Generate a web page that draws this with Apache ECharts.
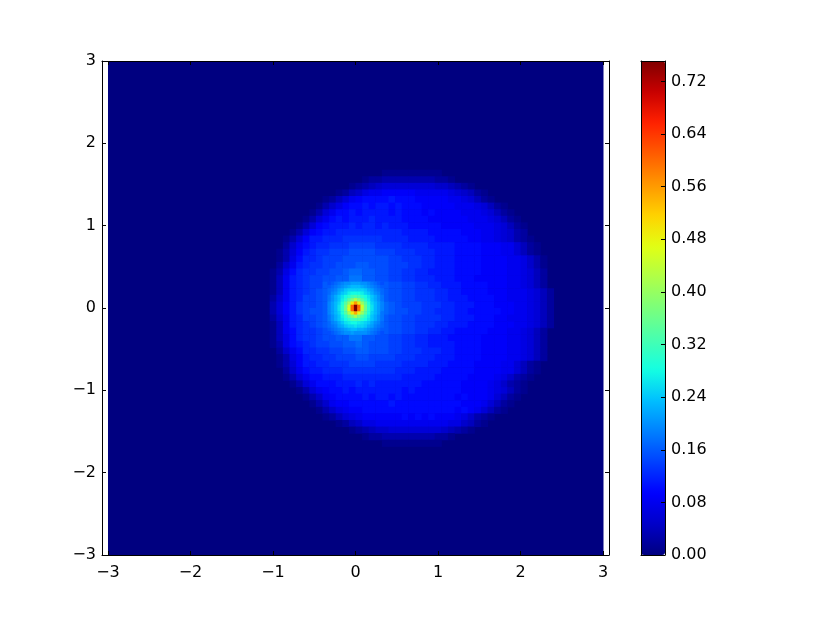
<!DOCTYPE html>
<html>
<head>
<meta charset="utf-8">
<style>
  html, body { margin: 0; background: #fff; }
  #main { width: 817px; height: 617px; }
</style>
<script src="https://cdn.jsdelivr.net/npm/echarts@6/dist/echarts.min.js"></script>
</head>
<body>
<div id="main"></div>
<script>
// tick labels
const xTicks = [-3, -2, -1, 0, 1, 2, 3];
const yTicks = [-3, -2, -1, 0, 1, 2, 3];
const barTicks = [0, 0.08, 0.16, 0.24, 0.32, 0.4, 0.48, 0.56, 0.64, 0.72];
const barMax = 0.751;

// disc, in 0.01 units, top row first. 0.08 wide cells
const coarseStart = [18,15,13,11,9,8,7,6,5,4,3,3,2,2,2,1,1,1,1,1,1,1,1,1,1,1,1,2,2,2,3,3,4,5,6,7,8,9,11,13,15,18];
const coarseRows = [
  [1,1,1,1,1,1,1,1,1],
  [1,2,2,3,3,3,3,3,3,3,3,2,2,1],
  [1,2,3,4,5,6,6,6,6,6,6,6,6,5,5,4,3,2,1],
  [1,2,4,5,7,8,8,9,9,9,9,9,8,8,8,8,8,7,6,5,4,2,1],
  [1,2,4,6,8,9,10,10,10,10,11,10,10,10,9,9,9,9,9,8,8,7,6,4,2,1],
  [1,3,5,7,9,10,10,11,10,11,11,10,11,10,10,10,9,9,9,9,9,8,8,8,7,6,4,2,1],
  [1,3,6,8,10,10,11,10,11,11,11,11,10,11,10,10,10,9,10,9,9,9,9,8,8,8,7,6,4,2,1],
  [1,3,6,8,10,11,10,11,11,11,12,11,11,11,11,10,10,10,10,9,9,9,9,9,9,8,8,8,7,6,4,2,1],
  [1,3,6,9,10,11,11,11,12,11,12,12,11,12,11,11,11,10,10,10,10,10,9,9,9,9,9,8,8,8,7,6,4,2,1],
  [1,3,6,9,10,11,11,12,12,12,12,12,12,12,12,12,12,11,11,11,11,10,10,10,10,10,9,9,9,8,8,7,6,5,3,2],
  [1,3,6,9,11,11,12,12,12,13,13,13,13,13,13,12,12,12,12,11,11,11,11,10,10,10,10,10,9,9,8,8,7,6,5,3,2,1],
  [2,5,8,10,11,12,12,13,13,13,14,14,14,14,13,13,13,13,12,12,12,12,11,11,11,11,10,10,10,10,9,9,9,8,8,6,4,2,1],
  [1,3,6,9,11,12,13,13,14,14,14,15,15,15,15,14,14,14,13,13,13,12,12,12,11,11,11,10,10,10,10,9,9,9,8,8,6,4,2,1],
  [1,3,7,10,12,12,13,14,14,14,15,15,15,15,15,15,15,14,14,13,13,13,12,12,11,11,11,10,10,10,10,9,9,9,9,8,8,7,5,3,1],
  [2,5,8,11,12,13,13,14,14,15,15,15,16,16,15,15,15,14,14,14,13,13,12,12,11,11,11,10,10,10,10,9,9,9,9,8,8,7,5,3,1],
  [1,3,7,10,12,13,13,14,14,15,15,16,17,17,16,16,15,15,14,14,13,13,12,12,11,11,11,11,10,10,10,10,9,9,9,9,8,8,7,6,4,2],
  [1,4,8,11,12,13,14,14,15,15,16,16,18,18,16,16,15,15,14,14,13,13,12,12,12,11,11,11,10,10,10,9,9,9,9,9,8,8,7,6,4,2],
  [1,4,8,11,12,13,14,14,16,16,16,17,18,18,18,17,17,16,15,15,14,14,13,13,12,12,11,11,11,10,10,10,10,9,9,9,8,8,7,6,4,2],
  [1,4,8,11,12,13,14,15,16,17,18,18,18,18,18,18,18,16,15,15,14,14,13,13,13,12,12,11,11,10,10,10,10,9,9,9,8,8,8,7,6,4,2],
  [2,5,8,11,12,14,14,15,16,17,18,18,18,18,18,18,18,16,15,15,14,14,13,13,13,12,12,11,11,11,10,10,10,10,9,9,8,8,8,7,6,4,2],
  [3,6,9,11,13,14,14,15,16,17,18,18,18,18,18,18,18,17,16,15,14,14,14,13,13,13,12,12,11,11,11,10,10,10,9,9,9,8,8,7,6,4,2],
  [3,6,9,11,13,14,15,15,16,17,18,18,18,18,18,18,18,17,16,15,15,14,14,13,13,12,12,12,11,11,10,10,10,10,10,9,9,8,8,7,6,4,2],
  [2,5,8,11,12,14,14,15,16,17,18,18,18,18,18,18,18,16,15,15,14,14,13,13,13,13,12,12,11,11,11,10,10,10,9,9,8,8,8,7,6,4,2],
  [1,4,8,11,12,13,14,15,16,17,18,18,18,18,18,18,18,16,15,15,14,14,13,13,13,12,12,11,11,11,10,10,10,10,9,9,9,8,8,7,6,4,2],
  [1,4,8,10,12,13,13,14,15,16,16,17,18,18,18,17,17,16,15,15,14,14,13,13,12,12,11,11,10,10,10,10,10,9,9,9,8,8,7,6,4,2],
  [1,4,7,10,12,13,13,14,15,15,16,16,18,18,16,16,15,15,14,14,13,13,12,12,11,11,11,10,10,10,10,10,9,9,9,9,8,8,7,6,4,2],
  [1,3,7,10,11,12,13,14,14,15,15,16,16,17,16,15,15,15,14,14,13,13,12,12,11,11,11,11,10,10,10,10,9,9,9,9,8,8,7,6,4,2],
  [2,5,8,10,12,12,13,13,14,14,15,15,16,16,15,15,15,14,14,13,13,13,12,12,12,11,11,10,10,10,10,9,9,9,9,8,8,7,6,4,2],
  [1,3,7,9,11,12,12,13,13,14,14,14,15,15,14,14,14,14,13,13,13,12,12,12,11,11,11,10,10,10,10,9,9,9,9,8,8,7,6,4,2],
  [1,3,6,9,11,11,12,12,13,13,13,14,14,14,14,13,13,13,13,12,12,12,12,11,11,11,10,10,10,10,9,9,9,9,8,8,6,4,2,1],
  [2,5,8,10,11,11,12,12,12,13,13,13,13,13,13,13,13,12,12,12,11,11,11,11,10,10,10,10,10,9,9,9,9,8,8,6,4,2,1],
  [1,3,6,8,10,10,11,11,11,12,12,12,12,12,12,12,12,12,11,11,11,11,11,10,10,10,10,10,9,9,9,9,8,7,5,3,2,1],
  [1,3,6,8,10,10,10,11,11,11,12,11,12,11,11,11,11,11,11,11,10,10,10,10,10,10,9,9,9,9,8,7,5,3,2,1],
  [1,3,6,8,9,10,10,11,10,11,11,11,11,11,11,11,10,11,10,10,10,10,10,10,10,9,9,9,9,8,7,6,4,2,1],
  [1,3,5,8,9,10,10,10,10,11,10,11,11,10,11,10,10,10,10,10,10,10,10,9,10,9,9,9,8,6,4,2,1],
  [1,3,5,8,9,9,10,10,10,10,10,10,11,10,10,10,10,10,10,10,10,10,10,9,9,9,8,6,4,2,1],
  [1,3,5,7,8,9,9,10,10,10,10,10,10,10,10,10,10,10,10,10,10,9,10,9,8,6,4,2,1],
  [1,2,4,6,7,8,9,9,9,9,9,9,10,9,10,9,10,9,9,9,8,7,5,3,2,1],
  [1,2,4,5,7,7,8,8,8,8,8,8,8,8,8,8,8,7,7,5,4,2,1],
  [1,2,3,4,5,5,6,6,6,6,6,6,6,6,5,4,3,2,1],
  [1,2,2,3,3,3,3,3,3,3,3,2,2,1],
  [1,1,1,1,1,1,1,1,1]
];

// bright spot at the origin, same units, 0.04 wide cells
const spotRows = [
  [15,16,17,18,19,20,20,21,21,21,20,20,19,18,17,16,15],
  [16,17,18,19,20,21,22,23,23,23,22,21,20,19,18,17,16],
  [17,18,19,21,22,24,25,25,25,25,25,24,22,21,19,18,17],
  [17,19,20,22,24,25,27,28,28,28,27,25,24,22,20,19,17],
  [18,20,22,24,26,28,30,32,33,32,30,28,26,24,22,20,18],
  [18,20,22,24,27,30,34,38,42,38,34,30,27,24,22,20,18],
  [19,21,23,25,29,34,40,49,56,49,40,34,29,25,23,21,19],
  [19,21,23,26,30,36,45,60,75,60,45,36,30,26,23,21,19],
  [19,21,23,26,30,36,46,60,75,59,44,36,30,26,23,21,19],
  [19,21,23,25,29,34,41,49,55,48,40,34,29,25,23,21,18],
  [18,20,22,24,27,30,34,37,41,37,33,30,27,24,22,20,18],
  [18,20,22,24,26,28,30,32,32,32,30,28,26,24,22,20,18],
  [17,19,20,22,24,26,27,28,28,27,26,25,24,22,20,19,17],
  [17,18,19,21,22,24,25,25,26,25,25,24,22,21,19,18,17],
  [16,17,18,19,20,21,22,23,23,22,22,21,20,19,18,17,16],
  [15,16,17,18,19,20,20,21,20,20,20,20,19,18,17,16,15]
];

const cells = [[-3, 3, -3, 3, 0]];
coarseRows.forEach((row, j) => {
  row.forEach((v, k) => {
    const x0 = -1.12 + 0.08 * (coarseStart[j] + k);
    const y1 = 1.68 - 0.08 * j;
    cells.push([x0, x0 + 0.08, y1 - 0.08, y1, v / 100]);
  });
});
spotRows.forEach((row, j) => {
  row.forEach((v, k) => {
    const x0 = -0.34 + 0.04 * k;
    const y1 = 0.32 - 0.04 * j;
    cells.push([x0, x0 + 0.04, y1 - 0.04, y1, v / 100]);
  });
});

const jet = ['#000080','#0000c8','#0000ff','#0040ff','#0080ff','#00bfff','#14ffe2','#48ffaf','#7bff7b',
  '#afff48','#e2ff14','#ffd200','#ff9700','#ff5c00','#ff2100','#c80000','#800000'];

const font = { fontFamily: 'DejaVu Sans', fontSize: 16, color: '#000' };
const minus = (v) => String(v).replace('-', '\u2212');
const line = { show: true, onZero: false, lineStyle: { color: '#000', width: 1 } };

function axisX(pos, labels) {
  return {
    type: 'value', gridIndex: 0, position: pos, min: -3.0727, max: 3.0727, z: 10,
    splitLine: { show: false }, axisLine: line,
    axisTick: { inside: true, length: 4, customValues: xTicks, lineStyle: { color: '#000' } },
    axisLabel: Object.assign({ show: labels, margin: 10, customValues: xTicks, formatter: minus, hideOverlap: false }, font)
  };
}
function axisY(pos, labels) {
  return {
    type: 'value', gridIndex: 0, position: pos, min: -3, max: 3, z: 10,
    splitLine: { show: false }, axisLine: line,
    axisTick: { inside: true, length: 4, customValues: yTicks, lineStyle: { color: '#000' } },
    axisLabel: Object.assign({ show: labels, margin: 6, padding: [5, 0, 0, 0], customValues: yTicks, formatter: minus, hideOverlap: false }, font)
  };
}

const chart = echarts.init(document.getElementById('main'), null, { renderer: 'canvas' });
chart.setOption({
  animation: false,
  backgroundColor: '#fff',
  grid: [
    { left: 102, top: 61, width: 507, height: 494 },
    { left: 641, top: 61, width: 24, height: 494 }
  ],
  xAxis: [
    axisX('bottom', true),
    axisX('top', false),
    { type: 'value', gridIndex: 1, position: 'bottom', min: 0, max: 1, z: 10, splitLine: { show: false },
      axisLine: line, axisTick: { show: false }, axisLabel: { show: false } },
    { type: 'value', gridIndex: 1, position: 'top', min: 0, max: 1, z: 10, splitLine: { show: false },
      axisLine: line, axisTick: { show: false }, axisLabel: { show: false } }
  ],
  yAxis: [
    axisY('left', true),
    axisY('right', false),
    { type: 'value', gridIndex: 1, position: 'left', min: 0, max: barMax, z: 10, splitLine: { show: false },
      axisLine: line, axisTick: { show: false }, axisLabel: { show: false } },
    { type: 'value', gridIndex: 1, position: 'right', min: 0, max: barMax, z: 10, splitLine: { show: false },
      axisLine: line,
      axisTick: { inside: true, length: 4, customValues: barTicks, lineStyle: { color: '#000' } },
      axisLabel: Object.assign({ margin: 6, padding: [5, 0, 0, 0], customValues: barTicks, formatter: (v) => v.toFixed(2), hideOverlap: false }, font) }
  ],
  visualMap: {
    type: 'continuous', seriesIndex: 0, dimension: 4, min: 0, max: barMax,
    left: 641, top: 61, itemWidth: 24, itemHeight: 494, padding: 0,
    calculable: false, realtime: false, hoverLink: false, showLabel: false, text: null, z: 4,
    inRange: { color: jet }
  },
  series: [{
    type: 'custom',
    xAxisIndex: 0,
    yAxisIndex: 0,
    clip: true,
    silent: true,
    dimensions: ['x0', 'x1', 'y0', 'y1', 'value'],
    encode: { x: [0, 1], y: [2, 3] },
    data: cells,
    renderItem: (params, api) => {
      const a = api.coord([api.value(0), api.value(3)]);
      const b = api.coord([api.value(1), api.value(2)]);
      return {
        type: 'rect',
        shape: { x: a[0], y: a[1], width: b[0] - a[0] + 0.5, height: b[1] - a[1] + 0.5 },
        style: { fill: api.visual('color') }
      };
    }
  }]
});
</script>
</body>
</html>
